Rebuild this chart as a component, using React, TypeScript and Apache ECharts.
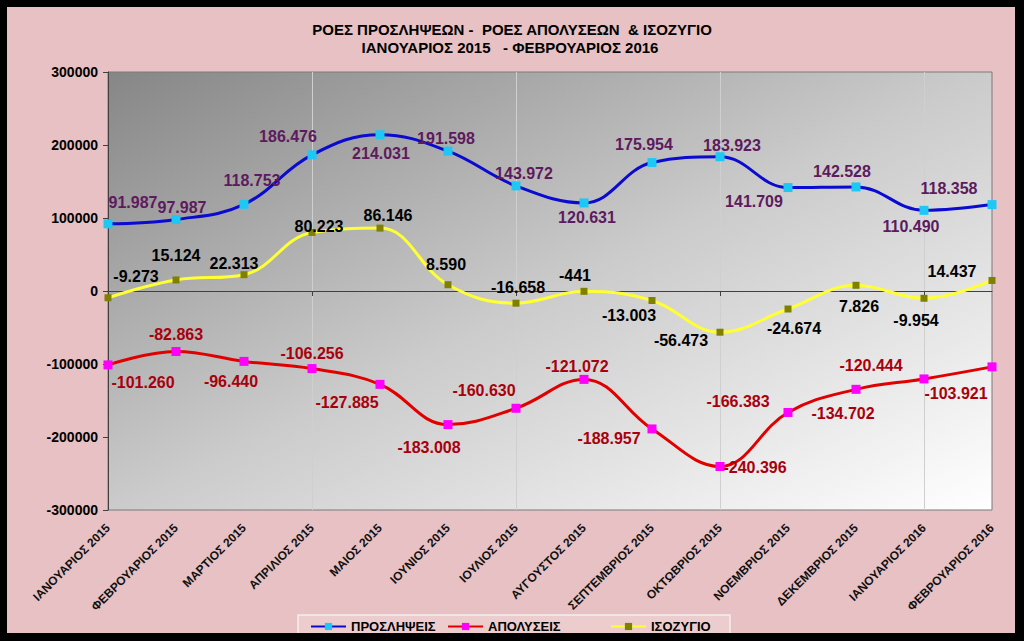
import React, { useEffect, useRef } from "react";
import * as echarts from "echarts";

const months = [
  "ΙΑΝΟΥΑΡΙΟΣ 2015",
  "ΦΕΒΡΟΥΑΡΙΟΣ 2015",
  "ΜΑΡΤΙΟΣ 2015",
  "ΑΠΡΙΛΙΟΣ 2015",
  "ΜΑΙΟΣ 2015",
  "ΙΟΥΝΙΟΣ 2015",
  "ΙΟΥΛΙΟΣ 2015",
  "ΑΥΓΟΥΣΤΟΣ 2015",
  "ΣΕΠΤΕΜΒΡΙΟΣ 2015",
  "ΟΚΤΩΒΡΙΟΣ 2015",
  "ΝΟΕΜΒΡΙΟΣ 2015",
  "ΔΕΚΕΜΒΡΙΟΣ 2015",
  "ΙΑΝΟΥΑΡΙΟΣ 2016",
  "ΦΕΒΡΟΥΑΡΙΟΣ 2016",
];

const hires = [91987, 97987, 118753, 186476, 214031, 191598, 143972, 120631, 175954, 183923, 141709, 142528, 110490, 118358];
const layoffs = [-101260, -82863, -96440, -106256, -127885, -183008, -160630, -121072, -188957, -240396, -166383, -134702, -120444, -103921];
const balance = [-9273, 15124, 22313, 80223, 86146, 8590, -16658, -441, -13003, -56473, -24674, 7826, -9954, 14437];

const seriesNames = ["ΠΡΟΣΛΗΨΕΙΣ", "ΑΠΟΛΥΣΕΙΣ", "ΙΣΟΖΥΓΙΟ"];
const titleLines = ["ΡΟΕΣ ΠΡΟΣΛΗΨΕΩΝ -  ΡΟΕΣ ΑΠΟΛΥΣΕΩΝ  & ΙΣΟΖΥΓΙΟ", "ΙΑΝΟΥΑΡΙΟΣ 2015   - ΦΕΒΡΟΥΑΡΙΟΣ 2016"];

// label placement offsets (layout only)
const hiresOff = [[25, -21], [6, -12], [8, -24], [-24, -18], [1, 19], [-2, -13], [8, -12], [3, 15], [-8, -18], [12, -11], [-34, 14], [-14, -15], [-13, 16], [-43, -16]];
const layoffsOff = [[35, 18], [0, -17], [-13, 20], [0, -15], [-33, 18], [-19, 23], [-32, -18], [-7, -13], [-43, 10], [35, 1], [-50, -11], [-13, 24], [-53, -13], [-36, 27]];
const balanceOff = [[28, -21], [0, -24], [-10, -11], [7, -6], [8, -13], [-2, -20], [2, -16], [-9, -16], [-23, 15], [-39, 8], [6, 19], [3, 21], [-8, 22], [-40, -9]];

const FONT = "Liberation Sans, Arial, sans-serif";

function fmt(v: number): string {
  const s = Math.abs(v).toString().replace(/\B(?=(\d{3})+(?!\d))/g, ".");
  return (v < 0 ? "-" : "") + s;
}

function makeSeries(name: string, values: number[], offs: number[][], lineColor: string, symColor: string, symSize: number, labelColor: string) {
  return {
    name,
    type: "line",
    xAxisIndex: 0,
    yAxisIndex: 0,
    smooth: 0.4,
    silent: true,
    symbol: "rect",
    symbolSize: symSize,
    showAllSymbol: true,
    lineStyle: { color: lineColor, width: 3 },
    itemStyle: { color: symColor },
    emphasis: { disabled: true },
    label: {
      show: true,
      position: "inside",
      color: labelColor,
      fontSize: 16,
      fontWeight: "bold",
      fontFamily: FONT,
      formatter: (p: any) => fmt(p.value),
    },
    data: values.map((v, i) => ({ value: v, label: { offset: offs[i] } })),
  };
}

export default function App() {
  const ref = useRef<HTMLDivElement>(null);
  useEffect(() => {
    if (!ref.current) return;
    const chart = echarts.init(ref.current, null, { renderer: "svg" });
    const legendCommon = {
      top: 613,
      padding: 0,
      itemWidth: 35,
      itemHeight: 9,
      textStyle: { fontFamily: FONT, fontSize: 13, fontWeight: "bold", color: "#000" },
      selectedMode: false,
    };
    chart.setOption({
      animation: false,
      backgroundColor: "#e7c1c3",
      graphic: [
        {
          type: "rect",
          shape: { x: 291, y: 608, width: 432, height: 30 },
          style: { fill: "rgba(255,240,240,0.25)", stroke: "#f4eeee", lineWidth: 1.5 },
          z: 0,
        },
        {
          type: "text",
          x: 505,
          y: 22,
          style: { text: titleLines[0], font: "bold 15px " + FONT, fill: "#000", textAlign: "center", textVerticalAlign: "middle" },
        },
        {
          type: "text",
          x: 503,
          y: 40,
          style: { text: titleLines[1], font: "bold 15px " + FONT, fill: "#000", textAlign: "center", textVerticalAlign: "middle" },
        },
      ],
      legend: [
        { ...legendCommon, left: 303, data: [seriesNames[0]] },
        { ...legendCommon, left: 440, data: [seriesNames[1]] },
        { ...legendCommon, left: 603, data: [seriesNames[2]] },
      ],
      grid: {
        left: 101,
        top: 65,
        right: 23,
        bottom: 123,
        show: true,
        backgroundColor: new echarts.graphic.LinearGradient(0, 0, 1, 1, [
          { offset: 0, color: "#868686" },
          { offset: 0.5, color: "#cbcbcb" },
          { offset: 1, color: "#ffffff" },
        ]),
        borderColor: "#7a7a7a",
        borderWidth: 1,
      },
      xAxis: [
        {
          type: "category",
          data: months,
          boundaryGap: false,
          position: "bottom",
          axisLine: { onZero: true, lineStyle: { color: "#404040", width: 1 } },
          axisTick: { show: true, length: 5, lineStyle: { color: "#404040" } },
          axisLabel: { show: false },
          splitLine: { show: true, lineStyle: { color: "#cfcfcf", width: 1 } },
        },
        {
          type: "category",
          data: months,
          boundaryGap: false,
          position: "bottom",
          axisLine: { show: false, onZero: false },
          axisTick: { show: false },
          splitLine: { show: false },
          axisLabel: {
            rotate: 45,
            interval: 0,
            margin: 16,
            fontFamily: FONT,
            fontSize: 12,
            fontWeight: "bold",
            color: "#111",
          },
        },
      ],
      yAxis: {
        type: "value",
        min: -300000,
        max: 300000,
        interval: 100000,
        axisLine: { show: true, lineStyle: { color: "#404040" } },
        axisTick: { show: true, length: 5, lineStyle: { color: "#404040" } },
        splitLine: { show: false },
        axisLabel: {
          fontFamily: FONT,
          fontSize: 14,
          fontWeight: "bold",
          color: "#000",
          margin: 10,
          formatter: (v: number) => String(v),
        },
      },
      series: [
        makeSeries(seriesNames[0], hires, hiresOff, "#0a0ad0", "#1ec8f5", 9, "#5e1a5e"),
        makeSeries(seriesNames[1], layoffs, layoffsOff, "#e00000", "#ff00ff", 9, "#a8000c"),
        makeSeries(seriesNames[2], balance, balanceOff, "#ffff33", "#808000", 7, "#000000"),
      ],
    });
    return () => chart.dispose();
  }, []);
  return (
    <div style={{ position: "fixed", left: 0, top: 0, width: 1024, height: 641, background: "#000" }}>
      <div ref={ref} style={{ position: "absolute", left: 7, top: 7, width: 1008, height: 626 }} />
    </div>
  );
}
